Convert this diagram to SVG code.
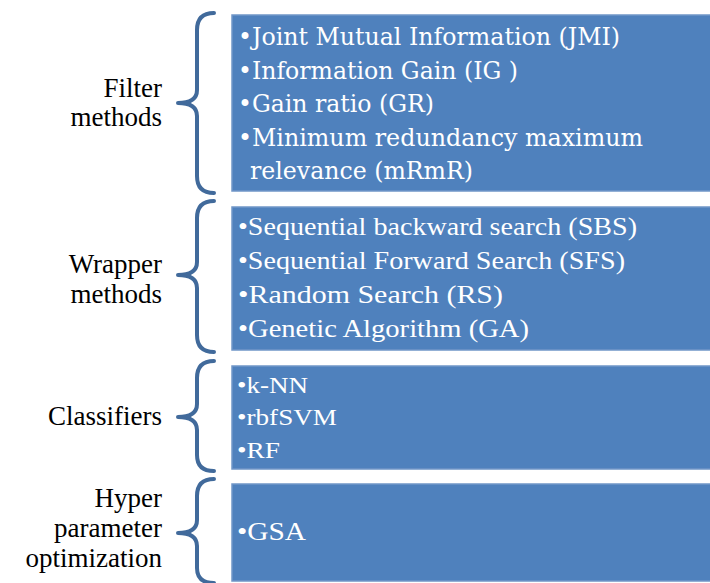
<svg xmlns="http://www.w3.org/2000/svg" width="710" height="583" viewBox="0 0 710 583">
<style>
.box{fill:#4F81BD;stroke:#7096C8;stroke-width:1.5}
.brace{fill:none;stroke:#416A9B;stroke-width:4;stroke-linecap:round;stroke-linejoin:round}
.lbl{font-family:"Liberation Serif",serif;font-size:27px;fill:#000;text-anchor:end}
.c{font-family:"DejaVu Serif","Liberation Serif",serif;font-size:24px;fill:#fff}
.t{font-family:"Liberation Serif",serif;font-size:25.5px;fill:#fff}
.s{font-family:"Liberation Serif",serif;font-size:24px;fill:#fff}
</style>
<g id="filter">
<rect class="box" x="232" y="15" width="480" height="176"/>
<path class="brace" d="M214,13 Q197,13 197,30 L197,90 Q197,103 178,103 Q197,103 197,116 L197,176 Q197,193 214,193"/>
<text class="lbl" x="162" y="97">Filter</text>
<text class="lbl" x="162" y="126">methods</text>
<text class="c" x="238" y="45" textLength="382" lengthAdjust="spacingAndGlyphs">•Joint Mutual Information (JMI)</text>
<text class="c" x="238" y="79" textLength="280" lengthAdjust="spacingAndGlyphs">•Information Gain (IG )</text>
<text class="c" x="238" y="112" textLength="196" lengthAdjust="spacingAndGlyphs">•Gain ratio (GR)</text>
<text class="c" x="238" y="146" textLength="405" lengthAdjust="spacingAndGlyphs">•Minimum redundancy maximum</text>
<text class="c" x="250" y="179" textLength="223" lengthAdjust="spacingAndGlyphs">relevance (mRmR)</text>
</g>
<g id="wrapper">
<rect class="box" x="232" y="207" width="480" height="143"/>
<path class="brace" d="M214,201 Q197,201 197,218 L197,262 Q197,275 178,275 Q197,275 197,288 L197,335 Q197,352 214,352"/>
<text class="lbl" x="162" y="273">Wrapper</text>
<text class="lbl" x="162" y="303">methods</text>
<text class="t" x="238" y="235" textLength="399" lengthAdjust="spacingAndGlyphs">•Sequential backward search (SBS)</text>
<text class="t" x="238" y="269" textLength="387" lengthAdjust="spacingAndGlyphs">•Sequential Forward Search (SFS)</text>
<text class="t" x="238" y="303" textLength="265" lengthAdjust="spacingAndGlyphs">•Random Search (RS)</text>
<text class="t" x="238" y="337" textLength="291" lengthAdjust="spacingAndGlyphs">•Genetic Algorithm (GA)</text>
</g>
<g id="classifiers">
<rect class="box" x="232" y="366" width="480" height="103"/>
<path class="brace" d="M214,361 Q197,361 197,378 L197,404 Q197,417 178,417 Q197,417 197,430 L197,455 Q197,471 214,471"/>
<text class="lbl" x="162" y="425">Classifiers</text>
<text class="s" x="237" y="393" textLength="71" lengthAdjust="spacingAndGlyphs">•k-NN</text>
<text class="s" x="237" y="425" textLength="100" lengthAdjust="spacingAndGlyphs">•rbfSVM</text>
<text class="s" x="237" y="458" textLength="43" lengthAdjust="spacingAndGlyphs">•RF</text>
</g>
<g id="hyper">
<rect class="box" x="232" y="484" width="480" height="97"/>
<path class="brace" d="M214,479 Q197,479 197,496 L197,520 Q197,533 178,533 Q197,533 197,546 L197,568 Q197,583 214,583"/>
<text class="lbl" x="162" y="507">Hyper</text>
<text class="lbl" x="162" y="537">parameter</text>
<text class="lbl" x="162" y="567">optimization</text>
<text class="t" x="237" y="540" textLength="69" lengthAdjust="spacingAndGlyphs">•GSA</text>
</g>
</svg>
